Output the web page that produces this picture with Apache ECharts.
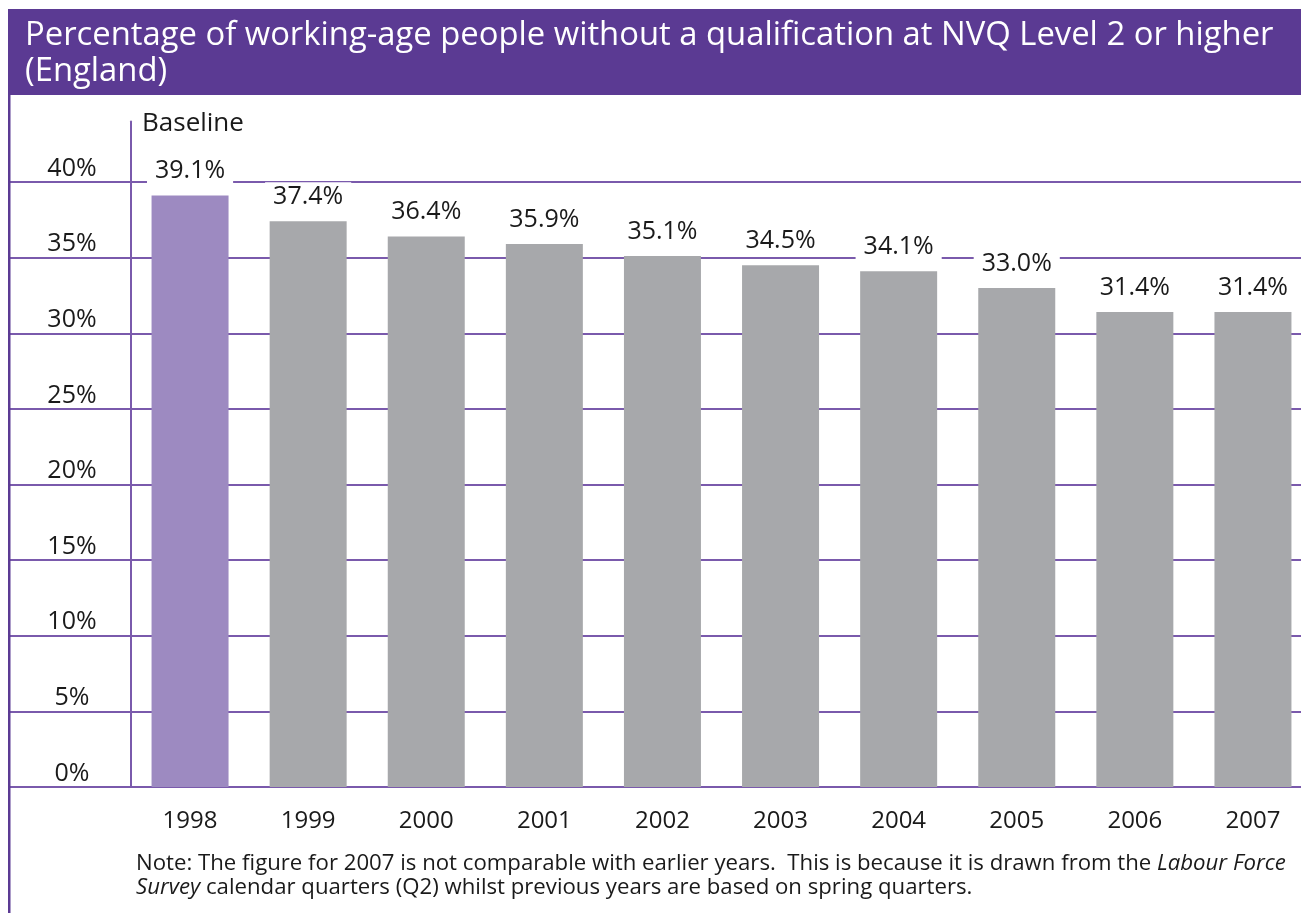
<!DOCTYPE html>
<html>
<head>
<meta charset="utf-8">
<script src="https://cdn.jsdelivr.net/npm/echarts@6/dist/echarts.min.js"></script>
<style>
  html, body { margin: 0; padding: 0; background: #ffffff; }
  #chart { width: 1301px; height: 913px; }
</style>
</head>
<body>
<div id="chart"></div>
<script>
// Share of working-age people in England below NVQ Level 2, by year
const years = ['1998', '1999', '2000', '2001', '2002', '2003', '2004', '2005', '2006', '2007'];
const percentages = [39.1, 37.4, 36.4, 35.9, 35.1, 34.5, 34.1, 33.0, 31.4, 31.4];
const baselineYear = '1998';
const yTicks = { min: 0, max: 40, interval: 5 };

const titleLines = 'Percentage of working-age people without a qualification at NVQ Level 2 or higher\n(England)';
const baselineLabel = 'Baseline';

const PURPLE_DARK = '#5b3a93';
const PURPLE_LINE = '#7a5aac';
const BAR_BASE = '#9d8ac1';
const BAR_GREY = '#a7a8ab';
const FONT = '"Open Sans", "Noto Sans", sans-serif';

const chart = echarts.init(document.getElementById('chart'), null, { renderer: 'canvas' });

const barData = years.map((y, i) => ({
  value: percentages[i],
  itemStyle: { color: y === baselineYear ? BAR_BASE : BAR_GREY }
}));

chart.setOption({
  animation: false,
  backgroundColor: '#ffffff',
  graphic: [
    // header band
    { type: 'rect', left: 8, top: 9, shape: { width: 1293, height: 86 }, style: { fill: PURPLE_DARK }, z: 0 },
    { type: 'text', left: 25, top: 18, style: { text: titleLines, fill: '#ffffff', font: '32.8px ' + FONT, lineHeight: 36 }, z: 1 },
    // left frame rule
    { type: 'rect', left: 8, top: 95, shape: { width: 2.5, height: 818 }, style: { fill: PURPLE_DARK }, z: 1 },
    { type: 'text', left: 142, top: 111, style: { text: baselineLabel, fill: '#1a1a1a', font: '26px ' + FONT }, z: 5 },
    // footnote
    {
      type: 'text', left: 136, top: 853, z: 5,
      style: {
        text: '{n|Note: The figure for 2007 is not comparable with earlier years.  This is because it is drawn from the }{i|Labour Force}\n{i|Survey}{n| calendar quarters (Q2) whilst previous years are based on spring quarters.}',
        rich: {
          n: { font: '22.2px ' + FONT, fill: '#1a1a1a', lineHeight: 24 },
          i: { font: 'italic 22.2px ' + FONT, fill: '#1a1a1a', lineHeight: 24 }
        }
      }
    }
  ],
  grid: [
    { left: 9, right: 0, top: 182, bottom: 126, outerBoundsMode: 'none' },
    { left: 131, right: -11, top: 121.5, bottom: 126, outerBoundsMode: 'none' }
  ],
  xAxis: [
    { gridIndex: 0, type: 'value', show: false, min: 0, max: 1 },
    {
      gridIndex: 1, type: 'category', data: years,
      axisLine: { show: false }, axisTick: { show: false },
      axisLabel: { color: '#1a1a1a', fontSize: 24, fontFamily: FONT, margin: 22 }
    }
  ],
  yAxis: [
    {
      gridIndex: 0, type: 'value', min: yTicks.min, max: yTicks.max, interval: yTicks.interval,
      axisLine: { show: false }, axisTick: { show: false },
      splitLine: { show: true, lineStyle: { color: PURPLE_LINE, width: 2 } },
      axisLabel: {
        inside: true, margin: 63, align: 'center', verticalAlign: 'bottom',
        padding: [0, 0, 1, 0],
        formatter: v => v + '%', color: '#1a1a1a', fontSize: 25, fontFamily: FONT
      }
    },
    {
      gridIndex: 1, type: 'value', min: 0, max: 44,
      axisLine: { show: true, lineStyle: { color: PURPLE_LINE, width: 2 } },
      axisTick: { show: false }, axisLabel: { show: false }, splitLine: { show: false }
    }
  ],
  series: [{
    type: 'bar', xAxisIndex: 1, yAxisIndex: 1,
    data: barData, barWidth: 77,
    label: {
      show: true, position: 'top', distance: 10,
      formatter: p => p.value.toFixed(1) + '%',
      color: '#1a1a1a', fontSize: 25, fontFamily: FONT,
      backgroundColor: '#ffffff', padding: [2, 8, 2, 8]
    }
  }]
});
</script>
</body>
</html>
